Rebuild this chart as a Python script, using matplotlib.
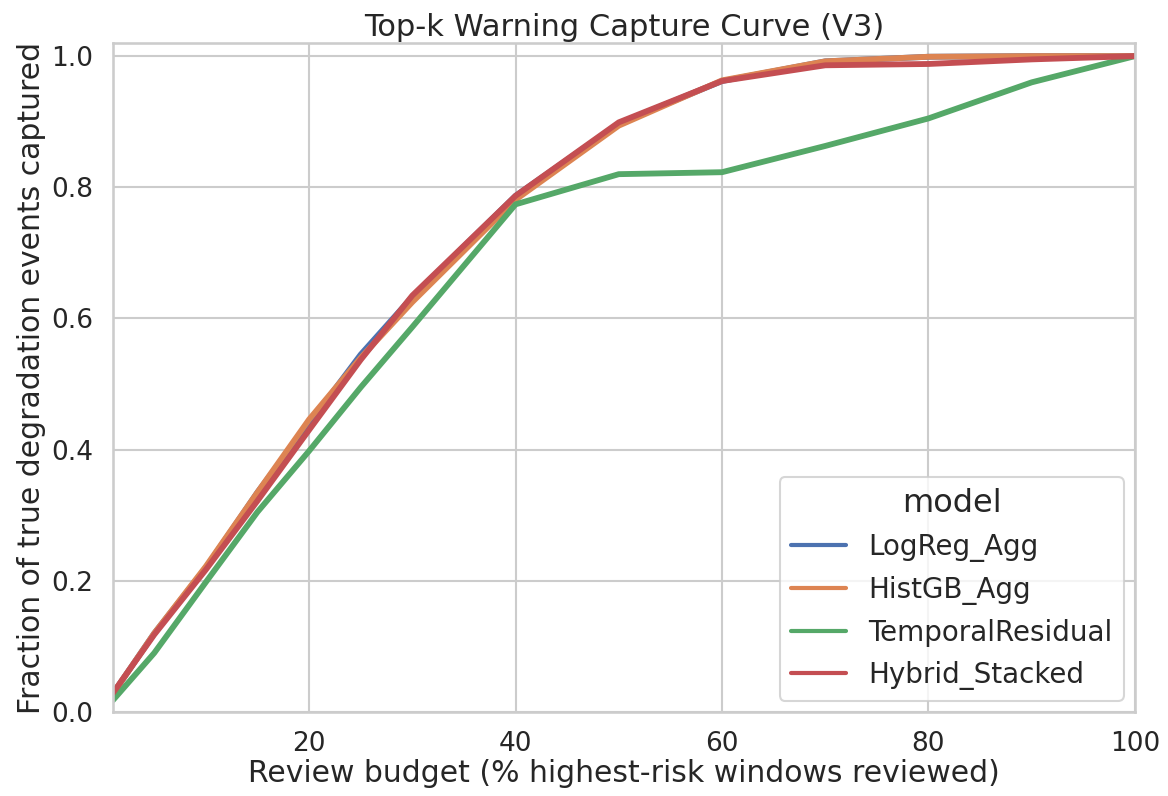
import matplotlib
matplotlib.use("Agg")
import matplotlib.pyplot as plt
import seaborn as sns
import pandas as pd

# review budget (% of windows) and capture fractions
budget = [1, 5, 10, 15, 20, 25, 30, 40, 50, 60, 70, 80, 90, 100]
logreg = [0.028, 0.12, 0.22, 0.335, 0.44, 0.545, 0.633, 0.787, 0.897, 0.962, 0.992, 0.999, 1.0, 1.0]
histgb = [0.028, 0.12, 0.222, 0.335, 0.446, 0.54, 0.625, 0.781, 0.894, 0.963, 0.992, 0.999, 1.0, 1.0]
temporal = [0.018, 0.09, 0.198, 0.305, 0.398, 0.495, 0.587, 0.774, 0.820, 0.823, 0.863, 0.905, 0.960, 1.0]
hybrid = [0.029, 0.118, 0.217, 0.322, 0.43, 0.537, 0.635, 0.787, 0.899, 0.962, 0.986, 0.988, 0.995, 1.0]

models = ["LogReg_Agg", "HistGB_Agg", "TemporalResidual", "Hybrid_Stacked"]
series = [logreg, histgb, temporal, hybrid]

df = pd.concat([pd.DataFrame({"budget": budget, "capture": s, "model": m})
                for m, s in zip(models, series)])

sns.set_theme(style="whitegrid", context="talk")

fig = plt.figure(figsize=(11.68, 7.96), dpi=100)
ax = fig.add_axes([0.0967, 0.1055, 0.875, 0.8405])
sns.lineplot(data=df, x="budget", y="capture", hue="model", linewidth=4.2, ax=ax)

ax.set_xlim(1, 100)
ax.set_ylim(0, 1.02)
ax.set_xticks([20, 40, 60, 80, 100])
ax.set_title("Top-k Warning Capture Curve (V3)", fontsize=22, pad=5)
ax.set_xlabel("Review budget (% highest-risk windows reviewed)", fontsize=21.5, labelpad=1)
ax.set_ylabel("Fraction of true degradation events captured", fontsize=21.5, labelpad=4)
ax.tick_params(labelsize=19, pad=5)
leg = ax.legend(title="model", loc="lower right", fontsize=20, title_fontsize=23,
                borderaxespad=0.4)
for line in leg.get_lines():
    line.set_linewidth(3)

fig.savefig("out.png", dpi=100)
